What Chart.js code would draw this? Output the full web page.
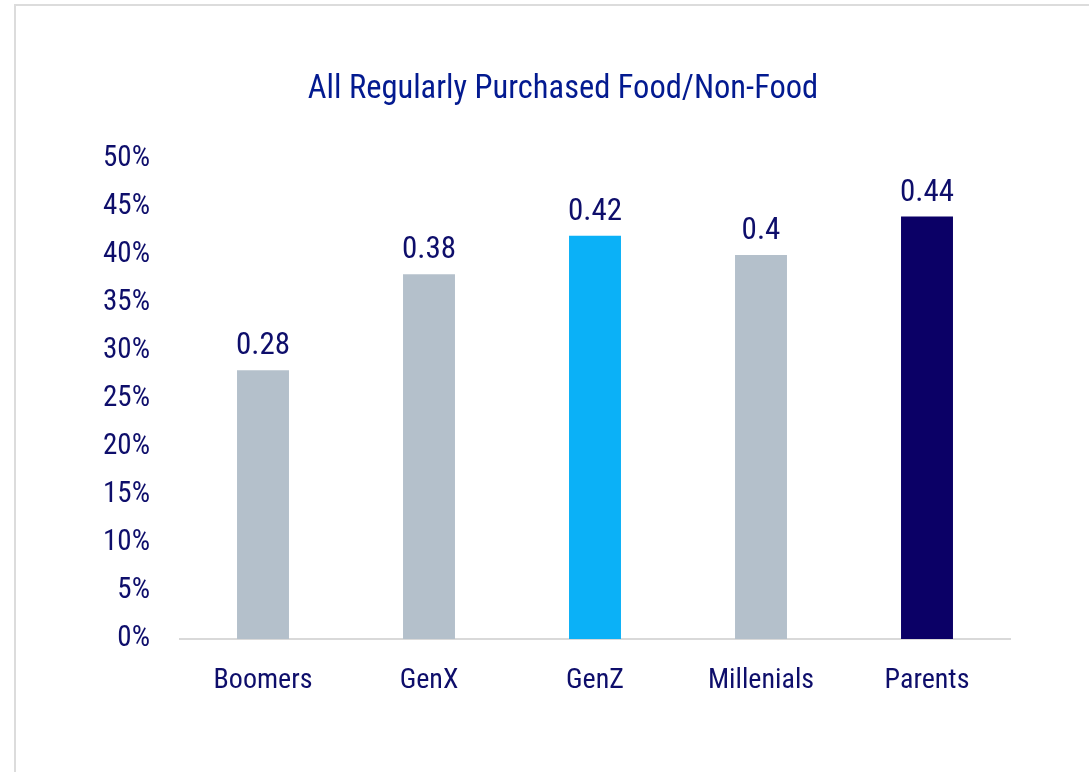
<!DOCTYPE html>
<html>
<head>
<meta charset="utf-8">
<script src="https://cdn.jsdelivr.net/npm/chart.js@4"></script>
<style>
  html, body { margin: 0; padding: 0; background: #ffffff; }
  body { width: 1089px; height: 772px; overflow: hidden; position: relative; }
  .frame { position: absolute; left: 14px; top: 4px; width: 1100px; height: 800px;
           border-left: 2px solid #dcdcdc; border-top: 2px solid #dcdcdc; }
  .wrap { position: absolute; left: 0; top: 0; width: 1089px; height: 772px; }
</style>
</head>
<body>
<div class="frame"></div>
<div class="wrap"><canvas id="c" width="1089" height="772"></canvas></div>
<script>
const categories = ['Boomers', 'GenX', 'GenZ', 'Millenials', 'Parents'];
const shares = [0.28, 0.38, 0.42, 0.4, 0.44];
const barColors = ['#b4c0cb', '#b4c0cb', '#0bb1f7', '#b4c0cb', '#0b0066'];
const yTicks = [0, 0.05, 0.10, 0.15, 0.20, 0.25, 0.30, 0.35, 0.40, 0.45, 0.50];
const chartTitle = 'All Regularly Purchased Food/Non-Food';

const FONT = '"Liberation Sans Narrow", "Arial Narrow", "Roboto Condensed", Roboto, sans-serif';
const TEXT = '#0e0e6b';

// chart heading, centred over the bars
const heading = {
  id: 'heading',
  afterDraw(chart) {
    const ctx = chart.ctx;
    ctx.save();
    ctx.font = '32.5px ' + FONT;
    ctx.fillStyle = '#031a90';
    ctx.textAlign = 'center';
    ctx.textBaseline = 'alphabetic';
    ctx.fillText(chartTitle, 563, 98);
    ctx.restore();
  }
};

// value labels above each bar
const valueLabels = {
  id: 'valueLabels',
  afterDatasetsDraw(chart) {
    const ctx = chart.ctx;
    const meta = chart.getDatasetMeta(0);
    ctx.save();
    ctx.font = '31px ' + FONT;
    ctx.fillStyle = TEXT;
    ctx.textAlign = 'center';
    ctx.textBaseline = 'alphabetic';
    meta.data.forEach((bar, i) => {
      ctx.fillText(String(shares[i]), bar.x, bar.y - 16);
    });
    ctx.restore();
  }
};

new Chart(document.getElementById('c'), {
  type: 'bar',
  data: {
    labels: categories,
    datasets: [{
      data: shares,
      backgroundColor: barColors,
      borderWidth: 0,
      categoryPercentage: 1,
      barPercentage: 0.313
    }]
  },
  options: {
    responsive: false,
    animation: false,
    devicePixelRatio: 1,
    layout: { padding: { left: 80, right: 79, top: 159, bottom: 0 } },
    plugins: {
      legend: { display: false },
      tooltip: { enabled: false },
      title: { display: false }
    },
    scales: {
      x: {
        grid: { display: false, drawTicks: false },
        border: { display: true, color: '#d9d9d9', width: 2 },
        ticks: { color: TEXT, font: { family: FONT, size: 28 }, padding: 25 },
        afterFit(axis) { axis.height = 133; }
      },
      y: {
        min: 0,
        max: 0.5,
        afterBuildTicks(axis) { axis.ticks = yTicks.map(v => ({ value: v })); },
        grid: { display: false, drawTicks: false },
        border: { display: false },
        ticks: {
          color: TEXT,
          font: { family: FONT, size: 29 },
          padding: 30,
          callback: v => Math.round(v * 100) + '%'
        },
        afterFit(axis) { axis.width = 100; }
      }
    }
  },
  plugins: [valueLabels, heading]
});
</script>
</body>
</html>
